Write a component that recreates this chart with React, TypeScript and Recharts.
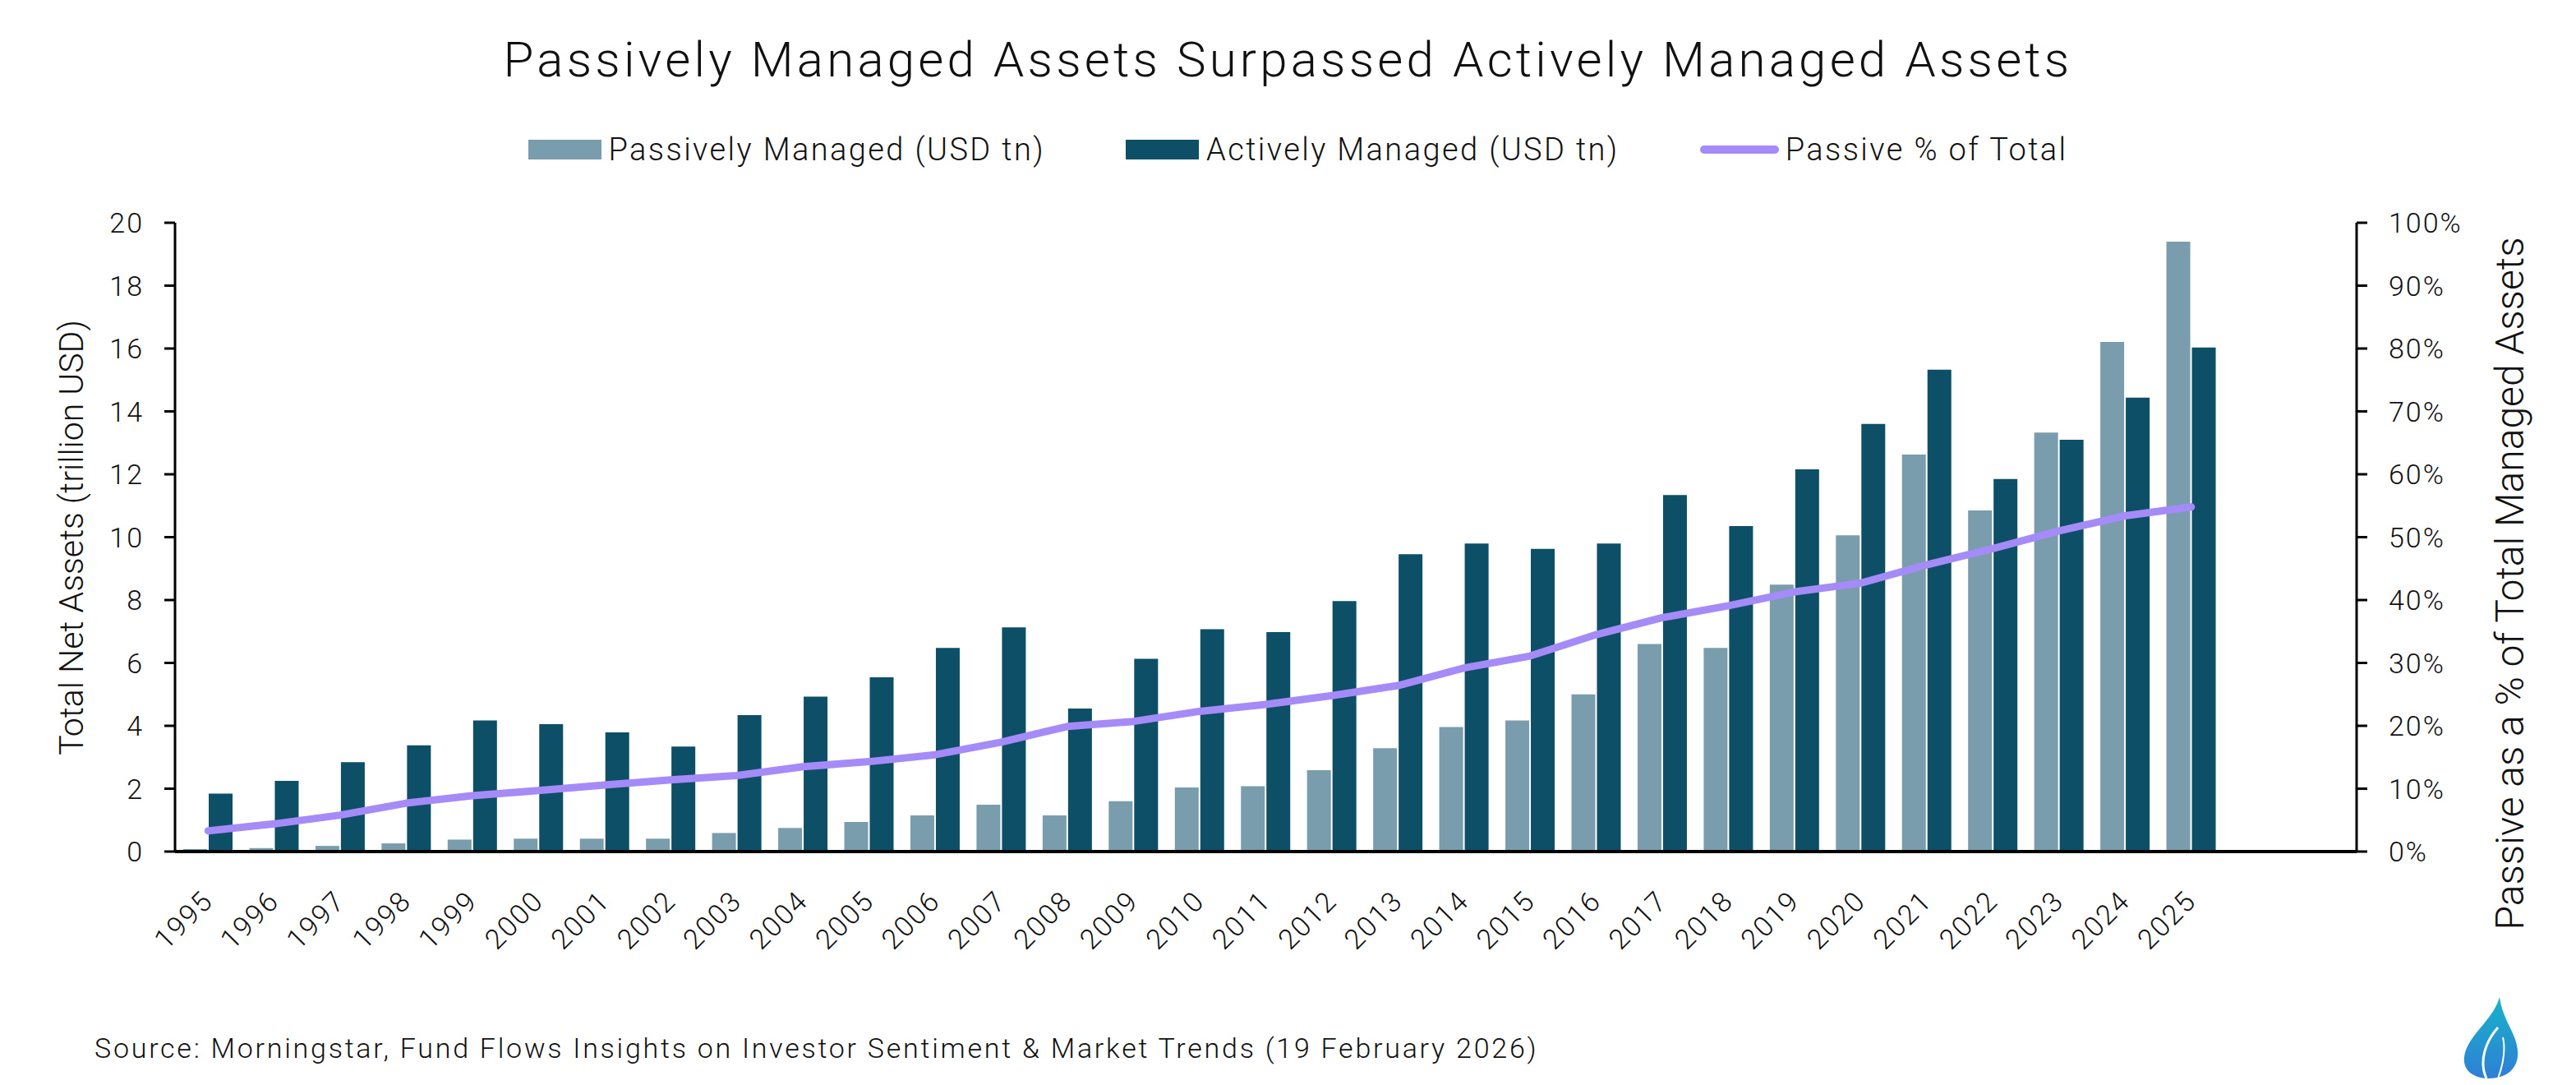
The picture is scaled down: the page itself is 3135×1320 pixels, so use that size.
import React from 'react';
import { ComposedChart, Bar, Line, XAxis, YAxis } from 'recharts';

const years = [
  '1995', '1996', '1997', '1998', '1999', '2000', '2001', '2002', '2003', '2004', '2005',
  '2006', '2007', '2008', '2009', '2010', '2011', '2012', '2013', '2014', '2015', '2016',
  '2017', '2018', '2019', '2020', '2021', '2022', '2023', '2024', '2025',
];
const passiveAssets = [
  0.08, 0.11, 0.18, 0.26, 0.38, 0.41, 0.41, 0.41, 0.59, 0.75, 0.94,
  1.15, 1.49, 1.15, 1.6, 2.04, 2.08, 2.59, 3.29, 3.96, 4.17, 5.0,
  6.6, 6.48, 8.49, 10.06, 12.63, 10.85, 13.33, 16.21, 19.4,
];
const activeAssets = [
  1.84, 2.25, 2.84, 3.38, 4.17, 4.05, 3.79, 3.34, 4.34, 4.93, 5.54,
  6.48, 7.13, 4.55, 6.13, 7.07, 6.98, 7.97, 9.46, 9.8, 9.63, 9.8,
  11.34, 10.35, 12.16, 13.6, 15.33, 11.85, 13.1, 14.44, 16.03,
];
const passiveShare = [
  3.3, 4.4, 5.8, 7.7, 8.9, 9.7, 10.6, 11.4, 12.1, 13.5, 14.3,
  15.4, 17.4, 19.9, 20.7, 22.3, 23.4, 24.8, 26.4, 29.2, 31.1, 34.5,
  37.2, 39.1, 41.3, 42.7, 45.6, 48.2, 51.0, 53.4, 54.8,
];
const assetTicks = [0, 2, 4, 6, 8, 10, 12, 14, 16, 18, 20];
const shareTicks = [0, 10, 20, 30, 40, 50, 60, 70, 80, 90, 100];

const data = years.map((year, i) => ({
  year,
  passive: passiveAssets[i],
  active: activeAssets[i],
  share: passiveShare[i],
}));

const W = 3135;
const H = 1320;
const FONT = 'Roboto, "Open Sans", sans-serif';
const INK = '#111';
const PASSIVE = '#7A9DAD';
const ACTIVE = '#0C4F67';
const SHARE = '#A48BF7';

const tickStyle = { fontSize: 34, fill: INK, fontFamily: FONT, fontWeight: 300, letterSpacing: 2 };

// rotated year labels under the bars
const YearTick = (props: any) => {
  const { x, y, payload } = props;
  const ax = x + 8;
  const ay = y + 60;
  return (
    <text x={ax} y={ay} transform={`rotate(-45 ${ax} ${ay})`} textAnchor="end" {...tickStyle}>
      {payload.value}
    </text>
  );
};

const AxisTitle = (props: any) => (
  <text
    transform={`translate(${props.cx},${props.cy}) rotate(-90)`}
    textAnchor="middle"
    dominantBaseline="central"
    fontSize={props.size}
    fill={INK}
    fontFamily={FONT}
    fontWeight={300}
  >
    {props.text}
  </text>
);

const legendItems = [
  { label: 'Passively Managed (USD tn)', color: PASSIVE, kind: 'bar' },
  { label: 'Actively Managed (USD tn)', color: ACTIVE, kind: 'bar' },
  { label: 'Passive % of Total', color: SHARE, kind: 'line' },
];

const Flame = () => (
  <svg width={W} height={H} style={{ position: 'absolute', left: 0, top: 0, pointerEvents: 'none' }}>
    <defs>
      <linearGradient id="flameFill" x1="0" y1="0" x2="0" y2="1">
        <stop offset="0%" stopColor="#17b3c8" />
        <stop offset="100%" stopColor="#2f7fd6" />
      </linearGradient>
    </defs>
    <path
      d="M3042,1213 C3034,1242 3002,1260 2999,1286 C2997,1302 3010,1312 3030,1312 C3052,1312 3066,1298 3064,1278 C3062,1256 3046,1242 3042,1213 Z"
      fill="url(#flameFill)"
    />
    <path d="M3026,1312 C3016,1290 3026,1266 3040,1250" stroke="#fff" strokeWidth={3} fill="none" />
    <path d="M3040,1312 C3046,1296 3050,1280 3046,1262" stroke="#fff" strokeWidth={2} fill="none" />
  </svg>
);

export default function App() {
  return (
    <div style={{ position: 'absolute', left: 0, top: 0, width: W, height: H, background: '#fff', fontFamily: FONT, fontWeight: 300, color: INK }}>
      <div style={{ position: 'absolute', top: 43, left: 0, width: W, textAlign: 'center', fontSize: 60, lineHeight: '60px', letterSpacing: 4.2 }}>
        Passively Managed Assets Surpassed Actively Managed Assets
      </div>

      <div style={{ position: 'absolute', top: 163, left: 12, width: W, display: 'flex', justifyContent: 'center', alignItems: 'center', gap: 98, fontSize: 38, lineHeight: '38px', letterSpacing: 2.4 }}>
        {legendItems.map((item) => (
          <div key={item.label} style={{ display: 'flex', alignItems: 'center' }}>
            {item.kind === 'bar' ? (
              <div style={{ width: 89, height: 24, background: item.color, marginRight: 9 }} />
            ) : (
              <div style={{ width: 96, height: 10, borderRadius: 5, background: item.color, marginRight: 8 }} />
            )}
            <span>{item.label}</span>
          </div>
        ))}
      </div>

      <div style={{ position: 'absolute' }}>
        <ComposedChart width={W} height={H} data={data} margin={{ top: 271, right: 0, bottom: 164, left: 0 }} barSize={29} barGap={2}>
          <XAxis
            dataKey="year"
            xAxisId="yr"
            height={120}
            tick={<YearTick />}
            tickLine={false}
            tickSize={0}
            axisLine={{ stroke: '#000', strokeWidth: 4 }}
            padding={{ left: 0, right: 161 }}
            interval={0}
          />
          <YAxis
            yAxisId="usd"
            width={213}
            domain={[0, 20]}
            ticks={assetTicks}
            tick={tickStyle}
            tickSize={13}
            tickMargin={25}
            tickLine={{ stroke: '#000', strokeWidth: 3 }}
            axisLine={{ stroke: '#000', strokeWidth: 3 }}
            label={<AxisTitle cx={87} cy={654} size={41} text="Total Net Assets (trillion USD)" />}
          />
          <YAxis
            yAxisId="pct"
            orientation="right"
            width={267}
            domain={[0, 100]}
            ticks={shareTicks}
            tickFormatter={(v) => `${v}%`}
            tick={{ ...tickStyle, textAnchor: 'start' }}
            tickSize={13}
            tickMargin={26}
            tickLine={{ stroke: '#000', strokeWidth: 3 }}
            axisLine={{ stroke: '#000', strokeWidth: 3 }}
            label={<AxisTitle cx={3054} cy={710} size={48} text="Passive as a % of Total Managed Assets" />}
          />
          <Bar xAxisId="yr" yAxisId="usd" dataKey="passive" name="Passively Managed (USD tn)" fill={PASSIVE} isAnimationActive={false} />
          <Bar xAxisId="yr" yAxisId="usd" dataKey="active" name="Actively Managed (USD tn)" fill={ACTIVE} isAnimationActive={false} />
          <Line
            xAxisId="yr"
            yAxisId="pct"
            type="linear"
            dataKey="share"
            name="Passive % of Total"
            stroke={SHARE}
            strokeWidth={9}
            strokeLinecap="round"
            strokeLinejoin="round"
            dot={false}
            activeDot={false}
            isAnimationActive={false}
          />
        </ComposedChart>
      </div>

      <div style={{ position: 'absolute', top: 1258, left: 115, fontSize: 34, lineHeight: '34px', whiteSpace: 'nowrap', letterSpacing: 2.75 }}>
        Source: Morningstar, Fund Flows Insights on Investor Sentiment &amp; Market Trends (19 February 2026)
      </div>

      <Flame />
    </div>
  );
}
